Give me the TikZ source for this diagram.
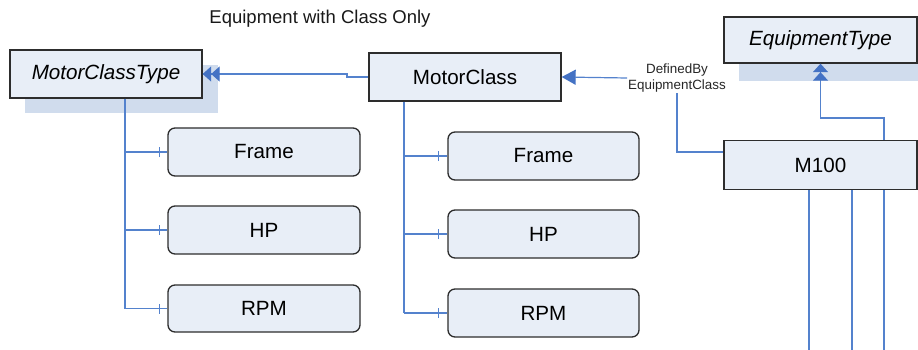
\documentclass[tikz,border=0pt]{standalone}
\usepackage{fontspec}
\setmainfont{Liberation Sans}
\usetikzlibrary{arrows.meta}
\definecolor{boxfill}{RGB}{232,238,247}
\definecolor{shadowc}{RGB}{208,220,237}
\definecolor{borderc}{RGB}{45,45,45}
\definecolor{linec}{RGB}{84,130,205}
\definecolor{tipc}{RGB}{68,114,196}
\tikzset{
  umlbox/.style={draw=borderc, line width=1.3pt, fill=boxfill, inner sep=0pt,
    font=\fontsize{20.6}{23}\selectfont},
  attrbox/.style={umlbox, rounded corners=7pt},
  conn/.style={draw=linec, line width=1.2pt},
  dbltip/.style={-{Triangle[length=8.5pt,width=15pt,color=tipc]Triangle[length=8.5pt,width=15pt,color=tipc]}},
  sgltip/.style={-{Triangle[length=14pt,width=15pt,color=tipc]}},
  tick/.style={draw=linec, line width=1.2pt},
  lbl/.style={font=\fontsize{13.4}{16}\selectfont, align=center, inner sep=1pt, text=black!85}
}
\begin{document}
\begin{tikzpicture}[x=1pt,y=-1pt]
\useasboundingbox (0,0) rectangle (918,350);
% shadows
\fill[shadowc] (25,65) rectangle (218,113);
\fill[shadowc] (739,63) rectangle (918,81);
% title
\node[font=\fontsize{18.5}{21}\selectfont, text=black!90] (title) at (320,19) {Equipment with Class Only};
% class boxes
\node[umlbox, minimum width=192pt, minimum height=48pt] (mct) at (106,74) {\itshape MotorClassType};
\node[umlbox, minimum width=192pt, minimum height=48pt] (mc) at (465,77) {MotorClass};
\node[umlbox, minimum width=193pt, minimum height=46pt] (et) at (820.5,40) {\itshape EquipmentType};
\node[umlbox, minimum width=193pt, minimum height=49pt] (m100) at (820.5,165) {M100};
% attribute boxes left
\node[attrbox, minimum width=192pt, minimum height=48pt] (lf) at (264,152) {Frame};
\node[attrbox, minimum width=192pt, minimum height=48pt] (lh) at (264,230) {HP};
\node[attrbox, minimum width=192pt, minimum height=47pt] (lr) at (264,308.5) {RPM};
% attribute boxes middle
\node[attrbox, minimum width=191pt, minimum height=48pt] (mf) at (543.5,156) {Frame};
\node[attrbox, minimum width=191pt, minimum height=48pt] (mh) at (543.5,234) {HP};
\node[attrbox, minimum width=191pt, minimum height=48pt] (mr) at (543.5,313) {RPM};
% label
\node[lbl] (dc) at (677,78) {DefinedBy\\EquipmentClass};
% MotorClass -> MotorClassType
\coordinate (jogA) at (347,77);
\coordinate (jogB) at (347,74);
\draw[conn, dbltip] (mc.west) -- (jogA) -- (jogB) -- (mct.east);
% DefinedBy -> MotorClass
\draw[conn, sgltip] (dc.west) -- (mc.east);
\coordinate (dcA) at (677,152);
\draw[conn] (dc.south -| dcA) -- (dcA) -- (m100.west |- dcA);
% M100 -> EquipmentType
\coordinate (eA) at (884,118);
\draw[conn, dbltip] (m100.north -| eA) -- (eA) -| (et.south);
% lines below M100
\coordinate (b1) at (809,350);
\coordinate (b2) at (852,350);
\coordinate (b3) at (884,350);
\draw[conn] (m100.south -| b1) -- (b1);
\draw[conn] (m100.south -| b2) -- (b2);
\draw[conn] (m100.south -| b3) -- (b3);
% left tree
\coordinate (lt) at (125,98);
\coordinate (lb) at (125,308.5);
\draw[conn] (mct.south -| lt) -- (lb);
\foreach \n in {lf,lh,lr}{
  \draw[conn] (\n.west -| lt) -- (\n.west);
  \draw[tick] ([xshift=-8pt,yshift=-5pt]\n.west) -- ([xshift=-8pt,yshift=5pt]\n.west);
}
% middle tree
\coordinate (mt) at (404,101);
\coordinate (mb) at (404,313);
\draw[conn] (mc.south -| mt) -- (mb);
\foreach \n in {mf,mh,mr}{
  \draw[conn] (\n.west -| mt) -- (\n.west);
  \draw[tick] ([xshift=-9pt,yshift=-5pt]\n.west) -- ([xshift=-9pt,yshift=5pt]\n.west);
}
\end{tikzpicture}
\end{document}
